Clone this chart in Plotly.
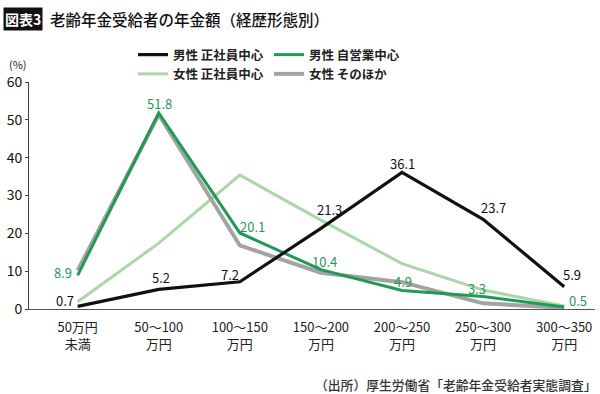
import plotly.graph_objects as go

# ---- data ----
categories = ["50万円<br>未満", "50～100<br>万円", "100～150<br>万円", "150～200<br>万円",
              "200～250<br>万円", "250～300<br>万円", "300～350<br>万円"]
male_regular = [0.7, 5.2, 7.2, 21.3, 36.1, 23.7, 5.9]
male_self = [8.9, 51.8, 20.1, 10.4, 4.9, 3.3, 0.5]
female_regular = [1.9, 17.4, 35.4, 23.5, 12.0, 5.0, 0.8]
female_other = [10.2, 51.4, 16.8, 9.6, 7.1, 1.5, 0.3]
y_ticks = [0, 10, 20, 30, 40, 50, 60]

names = ["男性 正社員中心", "男性 自営業中心", "女性 正社員中心", "女性 そのほか"]

FONT = "Noto Sans CJK JP"
BLACK = "#111111"
GREEN = "#1f9a57"
LIGHT = "#abd6a8"
GRAY = "#a3a3a3"

x = list(range(len(categories)))

fig = go.Figure()
# draw order: light green, gray, green, black
fig.add_trace(go.Scatter(x=x, y=female_regular, mode="lines", name=names[2],
                         line=dict(color=LIGHT, width=3), legend="legend",
                         legendrank=2, legendgroup="c"))
fig.add_trace(go.Scatter(x=x, y=female_other, mode="lines", name=names[3],
                         line=dict(color=GRAY, width=4), legend="legend2",
                         legendrank=2, legendgroup="d"))
fig.add_trace(go.Scatter(x=x, y=male_self, mode="lines", name=names[1],
                         line=dict(color=GREEN, width=3), legend="legend2",
                         legendrank=1, legendgroup="b"))
fig.add_trace(go.Scatter(x=x, y=male_regular, mode="lines", name=names[0],
                         line=dict(color=BLACK, width=3.2), legend="legend",
                         legendrank=1, legendgroup="a"))

# data labels (pixel offsets from each point)
black_off = [(-13, 6), (2, 12), (-10, 7), (9, 19), (0, 9), (10, 12), (8, 12)]
green_off = [(-15, 3), (1, 10), (13, 6), (4, 8), (1, 9), (-6, 8), (14, 7)]
for i, v in enumerate(male_regular):
    fig.add_annotation(x=x[i], y=v, text=f"{v}", showarrow=False,
                       xshift=black_off[i][0], yshift=black_off[i][1],
                       font=dict(family=FONT, size=13, color=BLACK))
for i, v in enumerate(male_self):
    fig.add_annotation(x=x[i], y=v, text=f"{v}", showarrow=False,
                       xshift=green_off[i][0], yshift=green_off[i][1],
                       font=dict(family=FONT, size=13, color=GREEN))

# plot area: x 29..595, y 82..309
L, R, T, B = 29, 5, 82, 85
W, H = 600, 394

fig.add_annotation(xref="paper", yref="paper", x=0, y=1, xanchor="left", yanchor="top",
                   text="<b>図表3</b>", showarrow=False, bgcolor="#111111", borderpad=1,
                   font=dict(family=FONT, size=14, color="white"),
                   xshift=3 - L, yshift=T - 7)
fig.add_annotation(xref="paper", yref="paper", x=0, y=1, xanchor="left", yanchor="top",
                   text="老齢年金受給者の年金額（経歴形態別）", showarrow=False,
                   font=dict(family=FONT, size=15.5, color="#111111", weight=500),
                   xshift=48 - L, yshift=T - 6)
fig.add_annotation(xref="paper", yref="paper", x=0, y=1, xanchor="left", yanchor="top",
                   text="(%)", showarrow=False, font=dict(family=FONT, size=11, color="#222222"),
                   xshift=7 - L, yshift=T - 54)
fig.add_annotation(xref="paper", yref="paper", x=1, y=0, xanchor="right", yanchor="top",
                   text="（出所）厚生労働省「老齢年金受給者実態調査」", showarrow=False,
                   font=dict(family=FONT, size=12.8, color="#333333", weight=500),
                   xshift=4, yshift=-(373 - (H - B)))

legend_common = dict(orientation="v", xanchor="left", yanchor="top", bgcolor="rgba(0,0,0,0)",
                     font=dict(family=FONT, size=12.5, color="#222222", weight=600),
                     tracegroupgap=7, traceorder="normal", itemwidth=30,
                     xref="container", yref="container")

fig.update_layout(
    width=W, height=H,
    margin=dict(l=L, r=R, t=T, b=B, autoexpand=False),
    paper_bgcolor="white", plot_bgcolor="white",
    showlegend=True,
    legend=dict(x=133 / W, y=1 - 40 / H, **legend_common),
    legend2=dict(x=269 / W, y=1 - 40 / H, **legend_common),
    xaxis=dict(range=[-0.6, 6.38], tickvals=x, ticktext=categories, showgrid=False,
               zeroline=False, showline=True, linecolor="#555555", linewidth=1,
               ticks="", automargin=False, ticklabelstandoff=6,
               tickfont=dict(family=FONT, size=13, color="#222222")),
    yaxis=dict(range=[0, 60], tickvals=y_ticks, showgrid=False, zeroline=False,
               showline=True, linecolor="#444444", linewidth=1, ticks="outside",
               ticklen=3, tickcolor="#444444", automargin=False,
               tickfont=dict(family=FONT, size=14, color="#111111")),
)

fig.write_html("out.html", config={"displayModeBar": False},
               post_script="document.body.style.margin='0';")
